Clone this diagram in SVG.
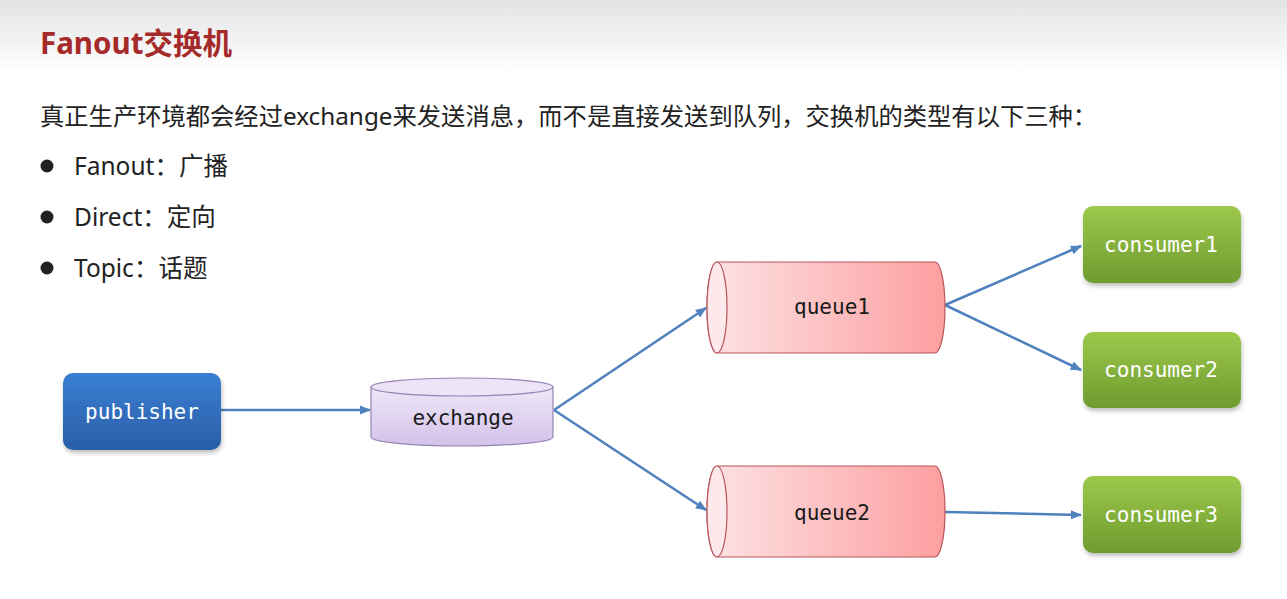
<svg xmlns="http://www.w3.org/2000/svg" width="1287" height="599" viewBox="0 0 1287 599">
<defs>
<linearGradient id="bg" x1="0" y1="0" x2="0" y2="1"><stop offset="0" stop-color="#e3e3e3"/><stop offset="1" stop-color="#ffffff"/></linearGradient>
<linearGradient id="blue" x1="0" y1="0" x2="0" y2="1"><stop offset="0" stop-color="#3a7fd2"/><stop offset="1" stop-color="#2a5ea8"/></linearGradient>
<linearGradient id="green" x1="0" y1="0" x2="0" y2="1"><stop offset="0" stop-color="#9cc94b"/><stop offset="1" stop-color="#6f9b2f"/></linearGradient>
<linearGradient id="lav" x1="0" y1="0" x2="0" y2="1"><stop offset="0" stop-color="#efe7f8"/><stop offset="1" stop-color="#d3c2ea"/></linearGradient>
<linearGradient id="pink" x1="0" y1="0" x2="1" y2="0"><stop offset="0" stop-color="#fde2e4"/><stop offset="1" stop-color="#fc9fa0"/></linearGradient>
<filter id="sh" x="-10%" y="-10%" width="125%" height="130%"><feDropShadow dx="1" dy="3" stdDeviation="2" flood-color="#000" flood-opacity="0.25"/></filter>
<marker id="ah" viewBox="0 0 10 10" refX="9" refY="5" markerWidth="4.5" markerHeight="4.5" orient="auto" markerUnits="strokeWidth"><path d="M0,1 L10,5 L0,9 Z" fill="#4f81bd"/></marker>
</defs>
<style>
.cjk{font-family:"Noto Sans","Noto Sans CJK SC",sans-serif;fill:#222}
.mono{font-family:"DejaVu Sans Mono","Liberation Mono",monospace;font-size:21px;text-anchor:middle}
.wt{fill:#ffffff}
.dk{fill:#1a1a1a}
.conn{stroke:#4f81bd;stroke-width:2.5;fill:none;marker-end:url(#ah)}
.q{fill:url(#pink);stroke:#b9545b;stroke-width:1.2}
.qcap{fill:#fde9eb;stroke:#b9545b;stroke-width:1.2}
</style>
<rect x="0" y="0" width="1287" height="599" fill="#ffffff"/>
<rect x="0" y="0" width="1287" height="72" fill="url(#bg)"/>
<text x="40" y="54" class="cjk" font-size="29.5" font-weight="bold" style="fill:#a52a2a">Fanout交换机</text>
<text x="40" y="125" class="cjk" font-size="24.3">真正生产环境都会经过exchange来发送消息，而不是直接发送到队列，交换机的类型有以下三种：</text>
<circle cx="47" cy="166" r="6.5" fill="#222"/>
<text x="74" y="175" class="cjk" font-size="24.5">Fanout：广播</text>
<circle cx="47" cy="217" r="6.5" fill="#222"/>
<text x="74" y="226" class="cjk" font-size="24.5">Direct：定向</text>
<circle cx="47" cy="268" r="6.5" fill="#222"/>
<text x="74" y="277" class="cjk" font-size="24.5">Topic：话题</text>

<g id="connectors">
<line x1="221" y1="410" x2="370" y2="410" class="conn"/>
<line x1="554" y1="410" x2="706" y2="308" class="conn"/>
<line x1="554" y1="410" x2="706" y2="510" class="conn"/>
<line x1="945" y1="305" x2="1081" y2="246" class="conn"/>
<line x1="945" y1="305" x2="1081" y2="370" class="conn"/>
<line x1="945" y1="512" x2="1081" y2="515" class="conn"/>
</g>

<g id="publisher">
<rect x="63" y="373" width="158" height="77" rx="10" fill="url(#blue)" filter="url(#sh)"/>
<text x="142" y="419" class="mono wt">publisher</text>
</g>

<g id="exchange">
<path d="M371,387 V437 A91,9 0 0 0 553,437 V387 Z" fill="url(#lav)" stroke="#9583b3" stroke-width="1.2"/>
<ellipse cx="462" cy="387" rx="91" ry="9" fill="#ede4f7" stroke="#9583b3" stroke-width="1.2"/>
<text x="463" y="425" class="mono dk">exchange</text>
</g>

<g id="queue1">
<path d="M717,262 H935 A10,45.5 0 0 1 935,353 H717 A10,45.5 0 0 1 717,262 Z" class="q"/>
<ellipse cx="717" cy="307.5" rx="10" ry="45.5" class="qcap"/>
<text x="832" y="314" class="mono dk">queue1</text>
</g>

<g id="queue2">
<path d="M717,466 H935 A10,45.5 0 0 1 935,557 H717 A10,45.5 0 0 1 717,466 Z" class="q"/>
<ellipse cx="717" cy="511.5" rx="10" ry="45.5" class="qcap"/>
<text x="832" y="520" class="mono dk">queue2</text>
</g>

<g id="consumer1">
<rect x="1083" y="206" width="158" height="77" rx="10" fill="url(#green)" filter="url(#sh)"/>
<text x="1161" y="252" class="mono wt">consumer1</text>
</g>
<g id="consumer2">
<rect x="1083" y="332" width="158" height="76" rx="10" fill="url(#green)" filter="url(#sh)"/>
<text x="1161" y="377" class="mono wt">consumer2</text>
</g>
<g id="consumer3">
<rect x="1083" y="476" width="158" height="77" rx="10" fill="url(#green)" filter="url(#sh)"/>
<text x="1161" y="522" class="mono wt">consumer3</text>
</g>
</svg>
